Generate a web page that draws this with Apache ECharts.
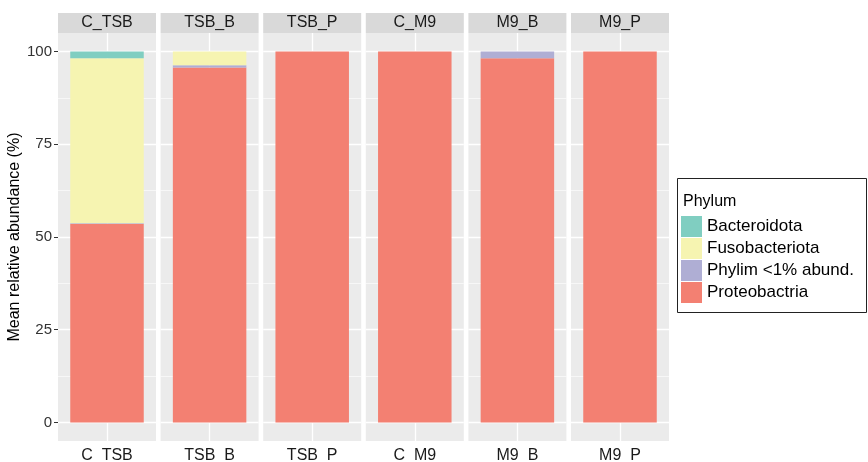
<!DOCTYPE html>
<html lang="en">

<head>
    <meta charset="UTF-8">
    <title>Mean relative abundance by phylum</title>
    <script type="text/javascript" src="https://cdn.jsdelivr.net/npm/echarts@6.0.0/dist/echarts.min.js"></script>
    <style>
        body { margin: 0; background: #fff; }
    </style>
</head>

<body>
    <div id="main" style="width: 868px;height:462px;"></div>
    <script type="text/javascript">
    // data (percent)
    const panels = ['C_TSB', 'TSB_B', 'TSB_P', 'C_M9', 'M9_B', 'M9_P'];
    const phyla = ['Bacteroidota', 'Fusobacteriota', 'Phylim <1% abund.', 'Proteobactria'];
    const bacteroidota = [1.8, 0, 0, 0, 0, 0];
    const fusobacteriota = [44.5, 3.7, 0, 0, 0, 0];
    const phylimLow = [0.2, 0.6, 0, 0, 1.8, 0];
    const proteobactria = [53.5, 95.7, 100, 100, 98.2, 100];
    const yTicks = [0, 25, 50, 75, 100];
    const yMinor = [12.5, 37.5, 62.5, 87.5];

    const colors = {
        'Bacteroidota': '#80CEC1',
        'Fusobacteriota': '#F6F4B1',
        'Phylim <1% abund.': '#AFAED4',
        'Proteobactria': '#F38072'
    };
    // stacked bottom -> top
    const stackOrder = [
        ['Proteobactria', proteobactria],
        ['Phylim <1% abund.', phylimLow],
        ['Fusobacteriota', fusobacteriota],
        ['Bacteroidota', bacteroidota]
    ];

    const font = 'Liberation Sans';
    const panelLeft = 58, panelStep = 102.6, panelW = 98;
    const panelTop = 33, panelH = 408;

    let myChart = echarts.init(document.getElementById('main'));

    let grids = [], xAxes = [], yAxes = [], series = [], graphics = [];

    panels.forEach(function(p, i) {
        let left = panelLeft + i * panelStep;
        grids.push({
            left: left, top: panelTop, width: panelW, height: panelH,
            outerBoundsMode: 'none', containLabel: false,
            show: true, backgroundColor: '#EBEBEB', borderWidth: 0
        });
        xAxes.push({
            type: 'category', gridIndex: i, data: [p],
            axisLine: { show: false },
            axisTick: { show: true, alignWithLabel: true, length: 4, lineStyle: { color: '#333' } },
            axisLabel: { fontFamily: font, fontSize: 16, color: '#1a1a1a', margin: 7 },
            splitLine: { show: false }
        });
        yAxes.push({
            type: 'value', gridIndex: i, min: -5, max: 105,
            axisLine: { show: false },
            splitLine: { show: false },
            axisTick: { show: i === 0, length: 4, customValues: yTicks, lineStyle: { color: '#333' } },
            axisLabel: { show: i === 0, customValues: yTicks, fontFamily: font, fontSize: 15, color: '#333', margin: 6 },
            name: i === 0 ? 'Mean relative abundance (%)' : '',
            nameLocation: 'middle', nameGap: 33,
            nameTextStyle: { fontFamily: font, fontSize: 16, color: '#000' }
        });

        // white grid lines behind the bars
        let lines = [];
        yTicks.forEach(function(v) { lines.push({ yAxis: v, lineStyle: { width: 1.3 } }); });
        yMinor.forEach(function(v) { lines.push({ yAxis: v, lineStyle: { width: 0.6 } }); });
        lines.push({ xAxis: p, lineStyle: { width: 1.3 } });
        series.push({
            type: 'line', xAxisIndex: i, yAxisIndex: i, data: [], z: 1,
            markLine: {
                silent: true, symbol: 'none', z: 1, animation: false,
                label: { show: false },
                lineStyle: { color: '#fff', type: 'solid' },
                data: lines
            }
        });

        stackOrder.forEach(function(s) {
            series.push({
                name: s[0], type: 'bar', stack: 'p' + i,
                xAxisIndex: i, yAxisIndex: i,
                barCategoryGap: '25%',
                itemStyle: { color: colors[s[0]] },
                data: [s[1][i]]
            });
        });

        // facet strip
        graphics.push({
            type: 'rect', shape: { x: left, y: 13, width: panelW, height: 20 },
            style: { fill: '#D9D9D9' }
        });
        graphics.push({
            type: 'text', x: left + panelW / 2, y: 23,
            style: { text: p, fill: '#1a1a1a', font: '16px "Liberation Sans"', align: 'center', verticalAlign: 'middle' }
        });
    });

    // legend frame
    graphics.push({
        type: 'rect', z: -1, shape: { x: 677.5, y: 178.5, width: 189, height: 134 },
        style: { fill: '#fff', stroke: '#222', lineWidth: 1 }
    });

    option = {
        animation: false,
        textStyle: { fontFamily: font },
        title: {
            text: 'Phylum', left: 683, top: 194, padding: 0,
            textStyle: { fontFamily: font, fontSize: 16, fontWeight: 'normal', color: '#000' }
        },
        legend: {
            data: phyla, orient: 'vertical', left: 681, top: 216, padding: 0,
            icon: 'rect', itemWidth: 21, itemHeight: 21, itemGap: 1,
            selectedMode: false,
            textStyle: { fontFamily: font, fontSize: 17, color: '#000', lineHeight: 21 }
        },
        grid: grids,
        xAxis: xAxes,
        yAxis: yAxes,
        graphic: graphics,
        series: series
    };

    myChart.setOption(option);
    </script>
</body>

</html>
